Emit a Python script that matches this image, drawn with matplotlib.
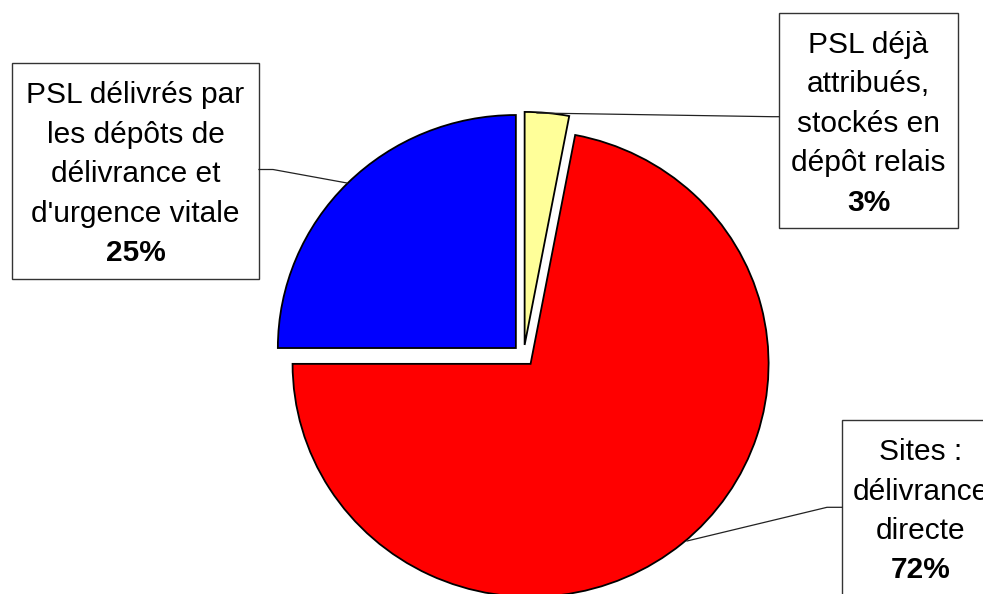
import matplotlib
matplotlib.use("Agg")
import matplotlib.pyplot as plt
from matplotlib.patches import Rectangle

plt.rcParams['font.family'] = ['Liberation Sans', 'DejaVu Sans']

# parts, clockwise from the top
parts = ['PSL déjà attribués, stockés en dépôt relais',
         'Sites : délivrance directe',
         "PSL délivrés par les dépôts de délivrance et d'urgence vitale"]
valeurs = [3, 72, 25]
couleurs = ['#ffff99', '#ff0000', '#0000ff']
textes = [['PSL déjà', 'attribués,', 'stockés en', 'dépôt relais'],
          ['Sites :', 'délivrance', 'directe'],
          ['PSL délivrés par', 'les dépôts de', 'délivrance et', "d'urgence vitale"]]

W, H = 983, 594
fig = plt.figure(figsize=(W / 100, H / 100), dpi=100)
fig.patch.set_facecolor('white')

# pie, in pixels: centre and radii
cx, cy = 523.6, 355.6
rx, ry = 238.0, 233.0
ax = fig.add_axes([0, 0, 1, 1])
ax.pie(valeurs, colors=couleurs, startangle=90, counterclock=False,
       explode=[0.046] * 3, radius=1,
       wedgeprops=dict(edgecolor='black', linewidth=1.3))
ax.set_aspect('auto')
ax.set_xlim(-cx / rx, (W - cx) / rx)
ax.set_ylim(-(H - cy) / ry, cy / ry)
ax.axis('off')

# boxes and leader lines in pixel coordinates
ax2 = fig.add_axes([0, 0, 1, 1])
ax2.set_xlim(0, W)
ax2.set_ylim(H, 0)
ax2.axis('off')
ax2.patch.set_alpha(0)

boites = [(779, 12.7, 179, 215), (842, 420, 170, 215), (12, 63.3, 247, 216)]
centres_x = [868.5, 921, 135.5]
lignes_guides = [[(537, 113), (772, 116.7), (779, 116.7)],
                 [(842, 507.3), (827, 507.3), (687, 541)],
                 [(259, 169.5), (273, 169.5), (347, 183)]]

taille = 21.5
for i in range(3):
    x0, y0, w, h = boites[i]
    ax2.add_patch(Rectangle((x0, y0), w, h, facecolor='white',
                            edgecolor='#333333', linewidth=1))
    xs = [p[0] for p in lignes_guides[i]]
    ys = [p[1] for p in lignes_guides[i]]
    ax2.plot(xs, ys, color='#222222', linewidth=0.9)
    base = y0 + 40
    for k, t in enumerate(textes[i]):
        ax2.text(centres_x[i], base + 39.5 * k, t, ha='center', va='baseline',
                 fontsize=taille)
    ax2.text(centres_x[i], base + 39.5 * len(textes[i]), '%d%%' % valeurs[i],
             ha='center', va='baseline', fontsize=taille, fontweight='bold')

fig.savefig('out.png', dpi=100, facecolor='white')
